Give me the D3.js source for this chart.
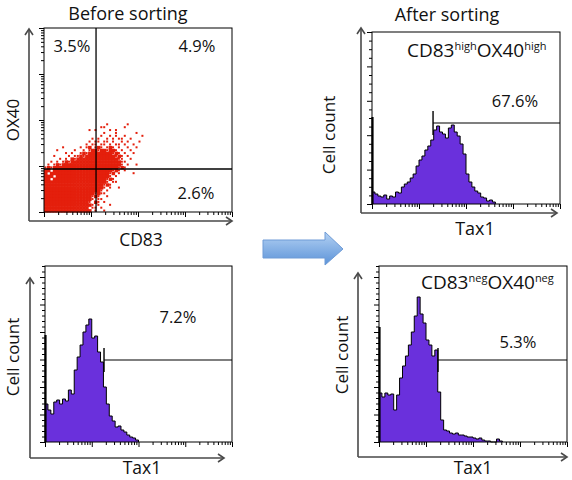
<!DOCTYPE html>
<html><head><meta charset="utf-8">
<script src="https://cdn.jsdelivr.net/npm/d3@7"></script>
<style>
body{margin:0;background:#fff}
svg{display:block}
text{font-family:"Open Sans","Noto Sans",sans-serif;fill:#111}
</style>
</head><body>
<svg id="c" width="572" height="480"></svg>
<script>
// ================= DATA =================
const titles = ["Before sorting", "After sorting"];
const scatterXLabel = "CD83";
const scatterYLabel = "OX40";
const histXLabel = "Tax1";
const histYLabel = "Cell count";
const quadrantPercents = ["3.5%", "4.9%", "2.6%"];       // UL, UR, LR
const quadrantGate = [12.8, 8.6];                         // CD83, OX40 gate values
const histPercents = ["67.6%", "7.2%", "5.3%"];           // after-high, before, after-neg
const histSubtitles = [["CD83", "high", "OX40", "high"], ["CD83", "neg", "OX40", "neg"]];
const histGateStart = [19.9, 18.3, 18.0];                  // Tax1 gate start
const histGateLevel = [81, 82, 82];                        // gate line height (counts)
const histOffscale = [87, 107, 115];                       // first-channel pile-up
// cell counts per 1/16-decade Tax1 channel
const histAfterHigh = [12,10,8,7,9,5,8,7,12,11,17,20,22,26,30,38,44,48,54,58,64,74,78,72,70,66,76,79,72,68,60,50,30,22,17,13,11,7,6,3,4,2];
const histBefore    = [38,32,28,40,42,38,43,41,52,48,72,85,97,110,117,123,104,106,90,80,55,38,26,21,15,16,12,10,7,5,4,2];
const histAfterNeg  = [49,45,49,47,48,32,47,64,76,86,97,110,126,145,128,119,102,97,86,92,50,22,12,11,9,8,9,7,7,6,5,5,4,3,4,2,1,1,0,0,3,1];
// CD83 x OX40 event map: each char = 1/16 decade cell, rows top (OX40 10^2) to bottom (10^0)
// '#' dense, 'o' single event, '.' empty
const scatterRows = [
"...... ...... ...... ...... ...... ......",
"...... ...... ...... ...o.. ....o. ......",
"...... ...... ...... .oo... ...o.. ......",
"...... ...... ...o.o ....o. o..... ......",
"...... ...... ...... ..o... o..... .o....",
"...... ...... ...... .o..o. o..o.. ...o..",
"...... ...... ....o. o..o.o .oo..o ......",
"...... ...... ...o.o o.oo.o ..o.o. ..o...",
"...... ...... ..o.oo .oo.o. oo.o.. o.....",
"...... o..... o.o#.o #o.o#o .o..o. .o....",
"....o. ....o. .o.o## o##o## o.o..o ......",
"...... .o.o.. o#o### #####o #o.o.. o.....",
"...o.. ..o.oo #o#### ###### o#o.o. ......",
".....o .o.#o# ###### ###### #oo..o ......",
"..o.o. o#o### ###### ###### ##oo.. ......",
".o.o#o ###### ###### ###### ##o.o. .o....",
"o#o### ###### ###### ###### #o#o.. ......",
"##.### ###### ###### #####o #o.o.. ......",
"#.#### ###### ###### ####o# .o.... o.....",
"###.## ###### ###### ####o. o..... ......",
"##.### ###### ###### ###o#o ...... ......",
"###### ###### ###### ###o.o o..... ......",
"###### ###### ###### ##o#o. ...... ......",
"###### ###### ###### ##o.o. .o.... ......",
"###### ###### ###### #o.o.. ...... ......",
"###### ###### #####o #oo... ...... ......",
"###### ###### ####o# o..o.. ...... ......",
"###### ###### ####o. oo.... ...... ......",
"###### ###### ###o.# o.o... ...... ......",
"###### ###### ####o. o...o. ...... ......",
"###### ###### ###.oo .o.... ...... ......",
"###### ###### ####.o ..o... ...... ......"
];
const cellLog = 0.0625;   // 1/16 decade

// ================= STYLE / LAYOUT =================
const RED = "#e41f0c", PURPLE = "#6a30dc", AXIS = "#4a4a4a";
const svg = d3.select("#c");

const defs = svg.append("defs");
const grad = defs.append("linearGradient").attr("id","ag").attr("x1",0).attr("y1",0).attr("x2",0).attr("y2",1);
grad.append("stop").attr("offset","0%").attr("stop-color","#b3d1f3");
grad.append("stop").attr("offset","100%").attr("stop-color","#5c93d8");

function axisL(ax, ay, topTip, rightTip){
  const g = svg.append("g").attr("fill","none").attr("stroke",AXIS).attr("stroke-width",1.6);
  g.append("path").attr("d",`M${ax},${ay}V${topTip+1}M${ax},${ay}H${rightTip-1}`);
  g.append("path").attr("d",`M${ax-4},${topTip+6}L${ax},${topTip}L${ax+4},${topTip+6}`);
  g.append("path").attr("d",`M${rightTip-6},${ay-4}L${rightTip},${ay}L${rightTip-6},${ay+4}`);
}

function logTicks(g, scale, orient, box){
  const vals = scale.ticks();
  const isMajor = v => Math.abs(Math.log10(v) - Math.round(Math.log10(v))) < 1e-9;
  const ax = (orient==="left" ? d3.axisLeft(scale) : d3.axisBottom(scale))
      .tickValues(vals).tickFormat("").tickSizeOuter(0).tickSize(3);
  const a = g.append("g")
    .attr("transform", orient==="left" ? `translate(${box.x0},0)` : `translate(0,${box.y1})`)
    .call(ax);
  a.select(".domain").remove();
  a.selectAll(".tick line").attr("stroke","#000").attr("stroke-width",1)
    .each(function(d){ if(isMajor(d)) d3.select(this).attr(orient==="left"?"x2":"y2", orient==="left"?-5:5); });
}

function linTicks(g, scale, box, step, majorEvery){
  const [d0,d1] = scale.domain();
  const vals = d3.range(d0, d1+0.01, step);
  const a = g.append("g").attr("transform",`translate(${box.x0},0)`)
    .call(d3.axisLeft(scale).tickValues(vals).tickFormat("").tickSizeOuter(0).tickSize(3));
  a.select(".domain").remove();
  a.selectAll(".tick line").attr("stroke","#000")
    .each(function(d,i){ if(i%majorEvery===0) d3.select(this).attr("x2",-5); });
}

function rotLabel(txt, x, y, size){
  svg.append("text").attr("transform",`translate(${x},${y}) rotate(-90)`)
    .attr("text-anchor","middle").attr("font-size",size).text(txt);
}
function label(txt, x, y, size, anchor){
  return svg.append("text").attr("x",x).attr("y",y).attr("text-anchor",anchor||"middle")
    .attr("font-size",size).text(txt);
}

// ================= PANEL 1 : scatter =================
const B1 = {x0:44, x1:232, y0:28, y1:212};
const sx = d3.scaleLog().domain([1,1e4]).range([B1.x0,B1.x1]);
const sy = d3.scaleLog().domain([1,1e4]).range([B1.y1,B1.y0]);
const g1 = svg.append("g");
const cells = [];
scatterRows.forEach((row,r)=>{
  const s = row.replace(/ /g,"");
  const nRows = scatterRows.length;
  for(let c=0;c<s.length;c++){
    if(s[c]==="." ) continue;
    cells.push({c, r:nRows-1-r, kind:s[c]});
  }
});
g1.selectAll("rect.ev").data(cells).join("rect").attr("class","ev")
  .each(function(d){
    const xa = sx(Math.pow(10,d.c*cellLog)), xb = sx(Math.pow(10,(d.c+1)*cellLog));
    const ya = sy(Math.pow(10,(d.r+1)*cellLog)), yb = sy(Math.pow(10,d.r*cellLog));
    const el = d3.select(this);
    if(d.kind==="#"){
      el.attr("x",xa).attr("y",ya).attr("width",xb-xa+0.6).attr("height",yb-ya+0.6);
    } else {
      el.attr("x",(xa+xb)/2-1).attr("y",(ya+yb)/2-1).attr("width",2).attr("height",2);
    }
  }).attr("fill",RED);
// gates
g1.append("line").attr("x1",sx(quadrantGate[0])).attr("x2",sx(quadrantGate[0]))
  .attr("y1",B1.y0).attr("y2",B1.y1).attr("stroke","#000").attr("stroke-width",1.3);
g1.append("line").attr("y1",sy(quadrantGate[1])).attr("y2",sy(quadrantGate[1]))
  .attr("x1",B1.x0).attr("x2",B1.x1).attr("stroke","#000").attr("stroke-width",1.3);
g1.append("rect").attr("x",B1.x0).attr("y",B1.y0).attr("width",B1.x1-B1.x0).attr("height",B1.y1-B1.y0)
  .attr("fill","none").attr("stroke","#000").attr("stroke-width",1);
logTicks(g1, sy, "left", B1);
logTicks(g1, sx, "bottom", B1);
axisL(29, 221, 29, 232);
label(quadrantPercents[0], 72, 52, 16.5);
label(quadrantPercents[1], 197, 52, 16.5);
label(quadrantPercents[2], 196, 199, 16.5);
label(titles[0], 128, 19.5, 18);
label(scatterXLabel, 141, 246, 17.5);
rotLabel(scatterYLabel, 19, 120, 17);

// ================= HISTOGRAMS =================
function drawHist(box, counts, offscale, yMax, gateStart, gateLevel, tickStep, majorEvery){
  const g = svg.append("g");
  const x = d3.scaleLog().domain([1,1e4]).range([box.x0, box.x1]);
  const y = d3.scaleLinear().domain([0,yMax]).range([box.y1, box.y0]);
  const pts = counts.map((c,i)=>({e:Math.pow(10,i*cellLog), c}));
  pts.push({e:Math.pow(10,counts.length*cellLog), c:0});
  g.append("path").datum(pts)
    .attr("d", d3.area().x(d=>x(d.e)).y0(y(0)).y1(d=>y(d.c)).curve(d3.curveStepAfter))
    .attr("fill",PURPLE);
  g.append("path").datum(pts)
    .attr("d", d3.line().x(d=>x(d.e)).y(d=>y(d.c)).curve(d3.curveStepAfter))
    .attr("fill","none").attr("stroke","#000").attr("stroke-width",1);
  g.append("rect").attr("x",box.x0).attr("y",box.y0).attr("width",box.x1-box.x0).attr("height",box.y1-box.y0)
    .attr("fill","none").attr("stroke","#000").attr("stroke-width",1);
  g.append("line").attr("x1",x(1)+0.5).attr("x2",x(1)+0.5).attr("y1",y(0)).attr("y2",y(offscale))
    .attr("stroke","#000").attr("stroke-width",2.2);
  // gate
  const gx = x(gateStart), gy = y(gateLevel);
  g.append("line").attr("x1",gx).attr("x2",box.x1).attr("y1",gy).attr("y2",gy).attr("stroke","#000").attr("stroke-width",1.2);
  g.append("line").attr("x1",gx).attr("x2",gx).attr("y1",gy-12).attr("y2",gy+12).attr("stroke","#000").attr("stroke-width",1.4);
  linTicks(g, y, box, tickStep, majorEvery);
  logTicks(g, x, "bottom", box);
  return {x,y};
}
function subtitle(parts, x, y){
  const t = svg.append("text").attr("x",x).attr("y",y).attr("font-size",19);
  t.append("tspan").text(parts[0]);
  t.append("tspan").attr("font-size",11).attr("dy",-7).text(parts[1]);
  t.append("tspan").attr("dy",7).text(parts[2]);
  t.append("tspan").attr("font-size",11).attr("dy",-7).text(parts[3]);
}

// Panel 2: after sorting, high
const B2 = {x0:372, x1:560, y0:32, y1:204};
drawHist(B2, histAfterHigh, histOffscale[0], 172, histGateStart[0], histGateLevel[0], 8.6, 4);
axisL(361, 213, 28, 557);
label(titles[1], 447, 20.5, 18);
subtitle(histSubtitles[0], 407, 57);
label(histPercents[0], 515, 107, 16.5);
label(histXLabel, 475, 235, 18);
rotLabel(histYLabel, 335, 135, 17);

// Panel 3: before sorting
const B3 = {x0:45, x1:232, y0:266, y1:442};
drawHist(B3, histBefore, histOffscale[1], 176, histGateStart[1], histGateLevel[1], 5.5, 5);
axisL(30, 458, 278, 224);
label(histPercents[1], 178, 323, 16.5);
label(histXLabel, 142, 474, 17.5);
rotLabel(histYLabel, 19, 357, 17);

// Panel 4: after sorting, neg
const B4 = {x0:379, x1:567, y0:266, y1:442};
drawHist(B4, histAfterNeg, histOffscale[2], 176, histGateStart[2], histGateLevel[2], 5.5, 5);
axisL(358, 457, 273, 567);
subtitle(histSubtitles[1], 421, 289);
label(histPercents[2], 518, 348, 16.5);
label(histXLabel, 473, 474, 17.5);
rotLabel(histYLabel, 348, 355, 17);

// ================= BLOCK ARROW =================
svg.append("path")
  .attr("d","M263,240H325V232L343,249L325,265V258H263Z")
  .attr("fill","url(#ag)").attr("stroke","#6f9bd6").attr("stroke-width",1);
</script>
</body></html>
